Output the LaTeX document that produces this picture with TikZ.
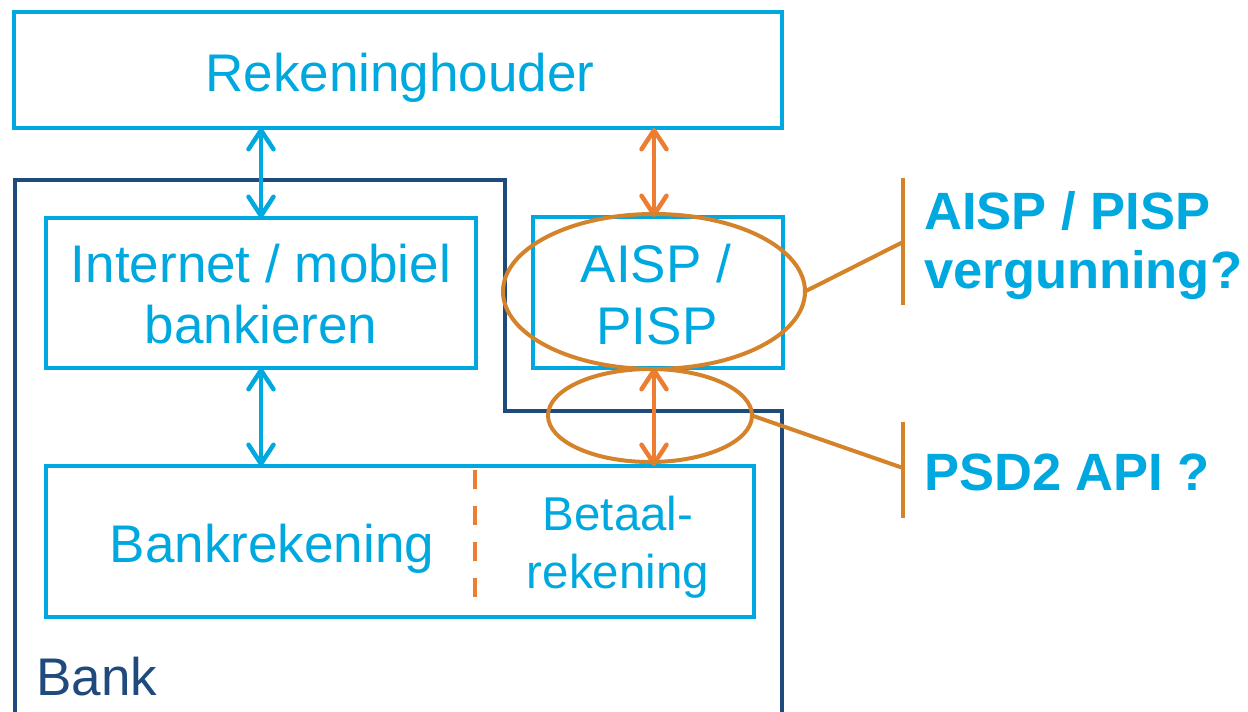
\documentclass[tikz,border=0pt]{standalone}
\usepackage{fontspec}
\setmainfont{Liberation Sans}
\usetikzlibrary{arrows.meta,shapes.geometric}
\definecolor{cyanline}{HTML}{00A8E0}
\definecolor{bankblue}{HTML}{1F4A7C}
\definecolor{arroworange}{HTML}{ED7D31}
\definecolor{markorange}{HTML}{D4832A}
\begin{document}
\begin{tikzpicture}[x=1pt,y=-1pt,
  box/.style={draw=cyanline, line width=4pt, rectangle, inner sep=0pt, outer sep=0pt},
  txt/.style={text=cyanline, font=\fontsize{53}{61}\selectfont, anchor=base, inner sep=0pt},
  smalltxt/.style={text=cyanline, font=\fontsize{47.5}{57}\selectfont, anchor=base, inner sep=0pt},
  boldtxt/.style={text=cyanline, font=\fontsize{52.5}{59}\selectfont\bfseries, anchor=base west, inner sep=0pt},
  link/.style={line width=4.5pt, line cap=round,
    {Straight Barb[length=19pt,width=25pt,line cap=round,line join=round]}-{Straight Barb[length=19pt,width=25pt,line cap=round,line join=round]}},
  ring/.style={ellipse, draw=markorange, line width=4pt, inner sep=0pt, outer sep=0pt},
  callout/.style={draw=markorange, line width=4pt}]
\useasboundingbox (0,0) rectangle (1248,712);

% bank outline
\draw[bankblue, line width=4pt, line join=miter]
  (15,716) -- (15,180) -- (505,180) -- (505,411) -- (782,411) -- (782,716);
\node[text=bankblue, font=\fontsize{53}{61}\selectfont, anchor=base west, inner sep=0pt] (banklbl) at (36,695) {Bank};

% boxes
\node[box, minimum width=768pt, minimum height=116pt] (holder) at (398,70) {};
\node[box, minimum width=430pt, minimum height=150pt] (inet) at (261,293) {};
\node[box, minimum width=250pt, minimum height=151pt] (aisp) at (658,292.5) {};
\node[box, minimum width=708pt, minimum height=151pt] (rek) at (400,541.5) {};

% box texts
\node[txt] (holdert) at (400,91) {Rekeninghouder};
\node[txt] (inett1) at (261,282) {Internet / mobiel};
\node[txt] (inett2) at (261,343) {bankieren};
\node[txt] (aispt1) at (656,282) {AISP /};
\node[txt] (aispt2) at (657,344) {PISP};
\node[txt] (rekt) at (272,562) {Bankrekening};
\node[smalltxt] (bett1) at (618,530) {Betaal-};
\node[smalltxt] (bett2) at (618,588) {rekening};

% divider inside the account box
\draw[arroworange, line width=4pt, dash pattern=on 19pt off 17pt]
  (rek.north -| 475,0) ++(0,4) -- (475,606);

% connectors
\draw[link, cyanline] (inet.north |- holder.south) -- (inet.north);
\draw[link, cyanline] (inet.south) -- (inet.south |- rek.north);
\draw[link, arroworange] ([xshift=-4pt]aisp.north |- holder.south) -- ([xshift=-4pt]aisp.north);
\draw[link, arroworange] ([xshift=-4pt]aisp.south) -- ([xshift=-4pt]aisp.south |- rek.north);

% highlight rings
\node[ring, minimum width=302pt, minimum height=155pt] (ring1) at (654,291.5) {};
\node[ring, minimum width=204pt, minimum height=93pt] (ring2) at (650,415.5) {};

% callouts
\coordinate (b1top) at (903,178);
\coordinate (b1bot) at (903,305);
\coordinate (b1mid) at (903,242);
\coordinate (b2top) at (903,422);
\coordinate (b2bot) at (903,518);
\coordinate (b2mid) at (903,468);
\draw[callout] (b1top) -- (b1bot);
\draw[callout] (ring1.east) -- (b1mid);
\draw[callout] (b2top) -- (b2bot);
\draw[callout] (ring2.east) -- (b2mid);

\node[boldtxt] (q1a) at (924,229) {AISP / PISP};
\node[boldtxt] (q1b) at (924,288) {vergunning?};
\node[boldtxt] (q2) at (924,490) {PSD2 API ?};
\end{tikzpicture}
\end{document}
